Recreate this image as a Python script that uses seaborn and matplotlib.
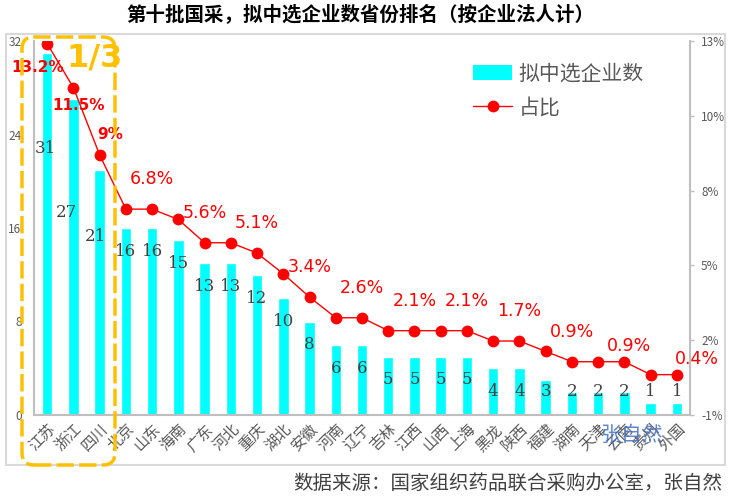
#第十批国采 拟中选企业数省份排名
import numpy as np
import pandas as pd
import matplotlib
matplotlib.use('Agg')
import matplotlib.pyplot as plt
import matplotlib.transforms as mtrans
from matplotlib.patches import FancyBboxPatch, Rectangle, Patch
from matplotlib.lines import Line2D
from matplotlib.ticker import FuncFormatter
import seaborn as sn

provinces = ['江苏', '浙江', '四川', '北京', '山东', '海南', '广东', '河北', '重庆', '湖北',
             '安徽', '河南', '辽宁', '吉林', '江西', '山西', '上海', '黑龙', '陕西', '福建',
             '湖南', '天津', '云南', '贵州', '外国']
counts = [31, 27, 21, 16, 16, 15, 13, 13, 12, 10, 8, 6, 6, 5, 5, 5, 5, 4, 4, 3, 2, 2, 2, 1, 1]
shares = [13.2, 11.5, 8.9, 6.8, 6.8, 6.4, 5.5, 5.5, 5.1, 4.3, 3.4, 2.6, 2.6, 2.1, 2.1, 2.1, 2.1,
          1.7, 1.7, 1.3, 0.9, 0.9, 0.9, 0.4, 0.4]
share_labels = ['13.2%', '11.5%', '9%', '', '6.8%', '', '5.6%', '', '5.1%', '', '3.4%', '',
                '2.6%', '', '2.1%', '', '2.1%', '', '1.7%', '', '0.9%', '', '0.9%', '', '0.4%']
left_ticks = [0, 8, 16, 24, 32]

title = '第十批国采，拟中选企业数省份排名（按企业法人计）'
source = '数据来源：国家组织药品联合采购办公室，张自然'

df = pd.DataFrame({'省份': provinces, '拟中选企业数': counts, '占比': shares})

sn.set_style('white')
plt.rcParams['font.family'] = ['Noto Sans CJK SC', 'DejaVu Sans']
plt.rcParams['axes.unicode_minus'] = False

W, H = 736, 499
fig = plt.figure(figsize=(W / 100, H / 100), dpi=100)
ax = fig.add_axes([34 / W, 1 - 415 / H, (690 - 34) / W, (415 - 41) / H])

# bars
sn.barplot(data=df, x='省份', y='拟中选企业数', color='#00FFFF', saturation=1,
           width=0.4, ax=ax)
ax.set_ylim(0, 32)
ax.set_yticks(left_ticks)
ax.set_xlim(-0.5, len(provinces) - 0.5)
ax.set_xlabel('')
ax.set_ylabel('')

# bar value labels (first three moved down, others just under the top)
bar_lbl_pos = {0: (-0.08, 22.8), 1: (-0.27, 17.3), 2: (-0.15, 15.3)}
for i, v in enumerate(counts):
    dx, y = bar_lbl_pos.get(i, (0, max(v - 2, 2)))
    ax.text(i + dx, y, str(v), ha='center', va='center', fontsize=12,
            family='DejaVu Serif', color='#404040', zorder=5)

# share line
ax2 = ax.twinx()
sn.lineplot(data=df, x=df.index, y='占比', color='#FF0000', linewidth=1, marker='o',
            markersize=8.5, markeredgewidth=0, ax=ax2)
ax2.set_ylim(-1.16, 13.3)
ax2.set_yticks(np.linspace(-1.16, 13.3, 6))
ax2.yaxis.set_major_formatter(FuncFormatter(lambda v, p: '%.0f%%' % v))
ax2.set_xlim(-0.5, len(provinces) - 0.5)
ax2.set_ylabel('')
ax2.set_xlabel('')

# share labels, offsets in pixels
lbl_off = {0: (-9, -24), 1: (5, -18), 2: (11, 20), 22: (5, 16), 24: (20, 16)}
for i, s in enumerate(share_labels):
    if not s:
        continue
    off = lbl_off.get(i, (0, 30))
    big = i < 3
    ax2.annotate(s, (i, shares[i]), xytext=off, textcoords='offset pixels',
                 ha='center', va='center', fontsize=11 if big else 12.5, color='#FF0000',
                 fontweight='bold' if big else 'normal', family='DejaVu Sans')

# axes style
for a in (ax, ax2):
    for sp in a.spines.values():
        sp.set_visible(False)
ax.spines['left'].set_visible(True)
ax.spines['bottom'].set_visible(True)
ax2.spines['right'].set_visible(True)
for sp in (ax.spines['left'], ax.spines['bottom'], ax2.spines['right']):
    sp.set_color('#bfbfbf')
    sp.set_linewidth(1.5)
ax.tick_params(axis='y', length=0, pad=9, labelsize=8.5, labelcolor='#595959')
ax.tick_params(axis='x', length=0, pad=4, labelsize=11, labelcolor='#595959')
for lbl in ax.get_xticklabels():
    lbl.set_rotation(45)
    lbl.set_ha('right')
    lbl.set_rotation_mode('anchor')
ax2.tick_params(axis='y', length=3, width=1, color='#bfbfbf', pad=5, labelsize=8.5,
                labelcolor='#595959')

# legend
handles = [Patch(facecolor='#00FFFF', edgecolor='none'),
           Line2D([], [], color='#FF0000', lw=1, marker='o', ms=8.5, mew=0)]
fig.legend(handles, ['拟中选企业数', '占比'], loc='upper left',
           bbox_to_anchor=(454 / W, 1 - 44 / H), frameon=False, fontsize=15,
           handlelength=1.9, handletextpad=0.3, labelspacing=0.55, labelcolor='#595959')

# texts
fig.text(360 / W, 1 - 15 / H, title, ha='center', va='center', fontsize=14,
         fontweight='bold', color='black')
fig.text(722 / W, 1 - 483 / H, source, ha='right', va='center', fontsize=14,
         color='#404040')
fig.text(631 / W, 1 - 435 / H, '张自然', ha='center', va='center', fontsize=15,
         color='#4472C4', alpha=0.85)
fig.text(94 / W, 1 - 58 / H, '1/3', ha='center', va='center', fontsize=23,
         color='#FFC000', family='DejaVu Sans', fontweight='bold')

# chart frame and dashed highlight box (pixels)
pix = mtrans.IdentityTransform()
fig.add_artist(Rectangle((6, H - 465), 719, 431, transform=pix, fill=False,
                         ec='#d9d9d9', lw=1.5))
fig.add_artist(FancyBboxPatch((22, H - 465), 93, 428, transform=pix,
                              boxstyle='round,pad=0,rounding_size=12', fill=False,
                              ec='#FFC000', lw=2.5, ls=(0, (5, 1.5)), zorder=10))

fig.savefig('out.png', dpi=100)
